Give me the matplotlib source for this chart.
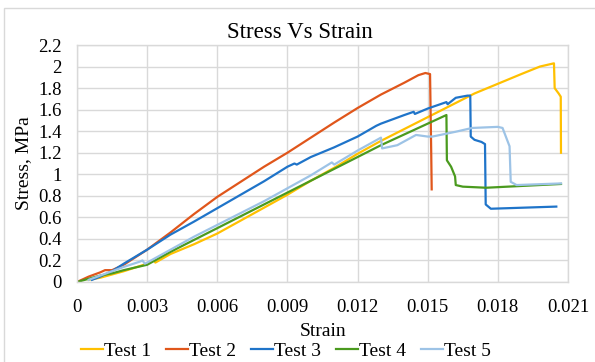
import matplotlib
matplotlib.use("Agg")
import matplotlib.pyplot as plt
from matplotlib.patches import Rectangle

# ---- data (strain, stress MPa) ----
t1_x = [0.0005, 0.001, 0.0015, 0.002, 0.003, 0.0033, 0.00335, 0.004, 0.005, 0.006, 0.007, 0.008, 0.009,
        0.010, 0.011, 0.012, 0.013, 0.014, 0.015, 0.016, 0.017, 0.018, 0.019, 0.0198, 0.0204,
        0.02043, 0.0206, 0.02069, 0.0207]
t1_y = [0.02, 0.04, 0.07, 0.10, 0.17, 0.20, 0.18, 0.26, 0.35, 0.45, 0.57, 0.69, 0.81,
        0.94, 1.06, 1.19, 1.31, 1.42, 1.53, 1.64, 1.75, 1.84, 1.93, 2.00, 2.03,
        1.80, 1.75, 1.72, 1.20]

t2_x = [0.0, 0.0005, 0.001, 0.0012, 0.0015, 0.002, 0.003, 0.004, 0.005, 0.006, 0.007, 0.008, 0.009,
        0.010, 0.011, 0.012, 0.013, 0.014, 0.0146, 0.0149, 0.0151, 0.01515, 0.01517]
t2_y = [0.0, 0.05, 0.09, 0.11, 0.11, 0.16, 0.30, 0.46, 0.63, 0.79, 0.93, 1.07, 1.20,
        1.34, 1.48, 1.615, 1.74, 1.85, 1.92, 1.94, 1.93, 1.20, 0.86]

t3_x = [0.00064, 0.001, 0.0015, 0.002, 0.003, 0.004, 0.005, 0.006, 0.007, 0.008, 0.009, 0.0093, 0.0094,
        0.010, 0.011, 0.012, 0.0128, 0.013, 0.014, 0.0144, 0.01445, 0.015, 0.0158, 0.01585, 0.0162,
        0.0167, 0.01682, 0.01684, 0.0170, 0.0173, 0.01745, 0.01748, 0.0177, 0.0205]
t3_y = [0.02, 0.05, 0.10, 0.17, 0.30, 0.44, 0.56, 0.685, 0.81, 0.935, 1.07, 1.10, 1.09,
        1.16, 1.25, 1.35, 1.45, 1.47, 1.55, 1.58, 1.56, 1.61, 1.67, 1.65, 1.71,
        1.73, 1.73, 1.35, 1.32, 1.30, 1.28, 0.72, 0.68, 0.70]

t4_x = [0.0, 0.0005, 0.001, 0.0015, 0.002, 0.0022, 0.003, 0.004, 0.005, 0.006, 0.007, 0.008, 0.009,
        0.010, 0.011, 0.012, 0.013, 0.014, 0.015, 0.0158, 0.01582, 0.0160, 0.01617, 0.0162,
        0.0165, 0.0175, 0.0207]
t4_y = [0.0, 0.03, 0.06, 0.08, 0.11, 0.12, 0.16, 0.28, 0.39, 0.50, 0.61, 0.72, 0.83,
        0.94, 1.05, 1.16, 1.27, 1.37, 1.47, 1.55, 1.13, 1.07, 0.98, 0.90,
        0.885, 0.875, 0.91]

t5_x = [0.0005, 0.001, 0.0015, 0.002, 0.0027, 0.0028, 0.0029, 0.003, 0.004, 0.005, 0.006, 0.007, 0.008,
        0.009, 0.010, 0.0109, 0.0110, 0.012, 0.0130, 0.01305, 0.0137, 0.0145, 0.015, 0.0152, 0.0162,
        0.0169, 0.0180, 0.0182, 0.0185, 0.01855, 0.0188, 0.0207]
t5_y = [0.02, 0.06, 0.10, 0.14, 0.19, 0.20, 0.17, 0.18, 0.30, 0.42, 0.53, 0.64, 0.75,
        0.87, 0.99, 1.11, 1.09, 1.22, 1.34, 1.24, 1.27, 1.365, 1.35, 1.35, 1.395,
        1.43, 1.44, 1.43, 1.26, 0.93, 0.90, 0.915]

names = ["Test 1", "Test 2", "Test 3", "Test 4", "Test 5"]
colors = ["#FFC000", "#E0561B", "#1F74C9", "#4A9A1E", "#9DC3E6"]
xticks = [0, 0.003, 0.006, 0.009, 0.012, 0.015, 0.018, 0.021]
xticklabels = ["0", "0.003", "0.006", "0.009", "0.012", "0.015", "0.018", "0.021"]
yticks = [0, 0.2, 0.4, 0.6, 0.8, 1, 1.2, 1.4, 1.6, 1.8, 2, 2.2]
yticklabels = ["0", "0.2", "0.4", "0.6", "0.8", "1", "1.2", "1.4", "1.6", "1.8", "2", "2.2"]

plt.rcParams['font.family'] = ['Liberation Serif', 'DejaVu Serif']

W, H = 595, 362
fig = plt.figure(figsize=(W / 100, H / 100), dpi=100)
ax = fig.add_axes([77 / W, 1 - 282 / H, (568 - 77) / W, (282 - 45) / H])

series = [(t1_x, t1_y), (t2_x, t2_y), (t3_x, t3_y), (t4_x, t4_y), (t5_x, t5_y)]
for (xs, ys), n, c in zip(series, names, colors):
    ax.plot(xs, ys, color=c, lw=1.6, label=n, solid_joinstyle='round')

ax.set_xlim(0, 0.021)
ax.set_ylim(0, 2.2)
ax.set_xticks(xticks)
ax.set_xticklabels(xticklabels)
ax.set_yticks(yticks)
ax.set_yticklabels(yticklabels)
ax.tick_params(length=0, labelsize=13.5, colors="#000000")
ax.tick_params(axis='x', pad=12)
ax.tick_params(axis='y', pad=11)
ax.grid(True, color="#d9d9d9", lw=1.0)
ax.set_axisbelow(True)
for s in ax.spines.values():
    s.set_color("#d9d9d9")
    s.set_linewidth(1.0)

fig.text(300 / W, 1 - 32 / H, "Stress Vs Strain", fontsize=16.5, ha='center', va='center')
ax.set_xlabel("Strain", fontsize=14)
ax.xaxis.set_label_coords((323 - 77) / (568 - 77), (282 - 331) / (282 - 45), transform=ax.transAxes)
ax.xaxis.label.set_verticalalignment('center')
ax.set_ylabel("Stress, MPa", fontsize=14)
ax.yaxis.set_label_coords((24 - 77) / (568 - 77), 0.5)
ax.yaxis.label.set_verticalalignment('center')

leg = fig.legend(loc='center', bbox_to_anchor=(286 / W, 1 - 351 / H), ncol=5, frameon=False,
                 fontsize=14, handlelength=1.15, handletextpad=0.05, columnspacing=0.75,
                 borderaxespad=0, borderpad=0)

# light outer border (chart area edge)
fig.patches.append(Rectangle((4 / W, -0.05), 1.2, 1 - 8 / H + 0.05, transform=fig.transFigure,
                             fill=False, edgecolor="#d9d9d9", lw=1.0))

fig.savefig("out.png", dpi=100)
